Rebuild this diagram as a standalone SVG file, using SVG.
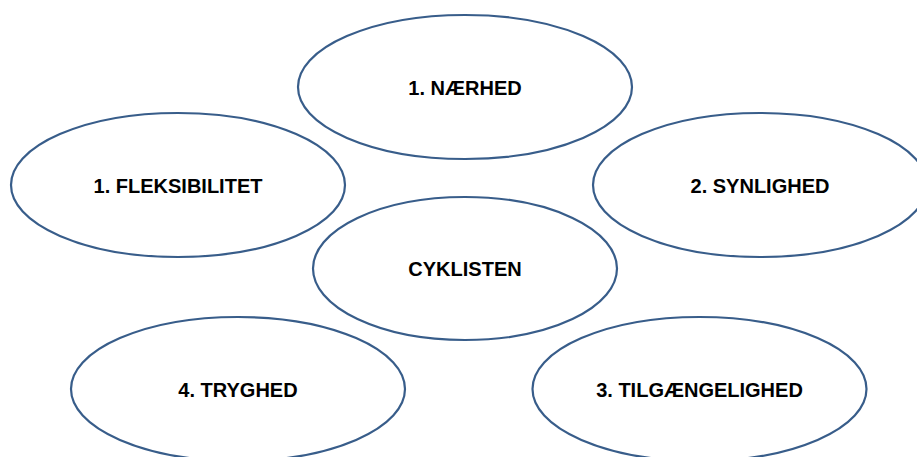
<svg xmlns="http://www.w3.org/2000/svg" width="917" height="457" viewBox="0 0 917 457">
<style>
.n{fill:#fff;stroke:#385D8A;stroke-width:2.2}
.t{font-family:"Liberation Sans",Arial,sans-serif;font-weight:bold;font-size:20px;fill:#000;text-anchor:middle}
</style>
<rect width="917" height="457" fill="#fff"/>
<g id="connectors"></g>
<g id="naerhed"><ellipse class="n" cx="465" cy="87" rx="167" ry="72"/><text class="t" x="465" y="95">1. NÆRHED</text></g>
<g id="fleksibilitet"><ellipse class="n" cx="178" cy="185" rx="167" ry="72"/><text class="t" x="178" y="193">1. FLEKSIBILITET</text></g>
<g id="synlighed"><ellipse class="n" cx="760" cy="185" rx="167" ry="72"/><text class="t" x="760" y="193">2. SYNLIGHED</text></g>
<g id="cyklisten"><ellipse class="n" cx="465" cy="268.5" rx="152" ry="71.5"/><text class="t" x="465" y="276">CYKLISTEN</text></g>
<g id="tryghed"><ellipse class="n" cx="238" cy="389" rx="167" ry="72"/><text class="t" x="238" y="397">4. TRYGHED</text></g>
<g id="tilgaengelighed"><ellipse class="n" cx="699.5" cy="389" rx="167" ry="72"/><text class="t" x="699.5" y="397">3. TILGÆNGELIGHED</text></g>
</svg>
